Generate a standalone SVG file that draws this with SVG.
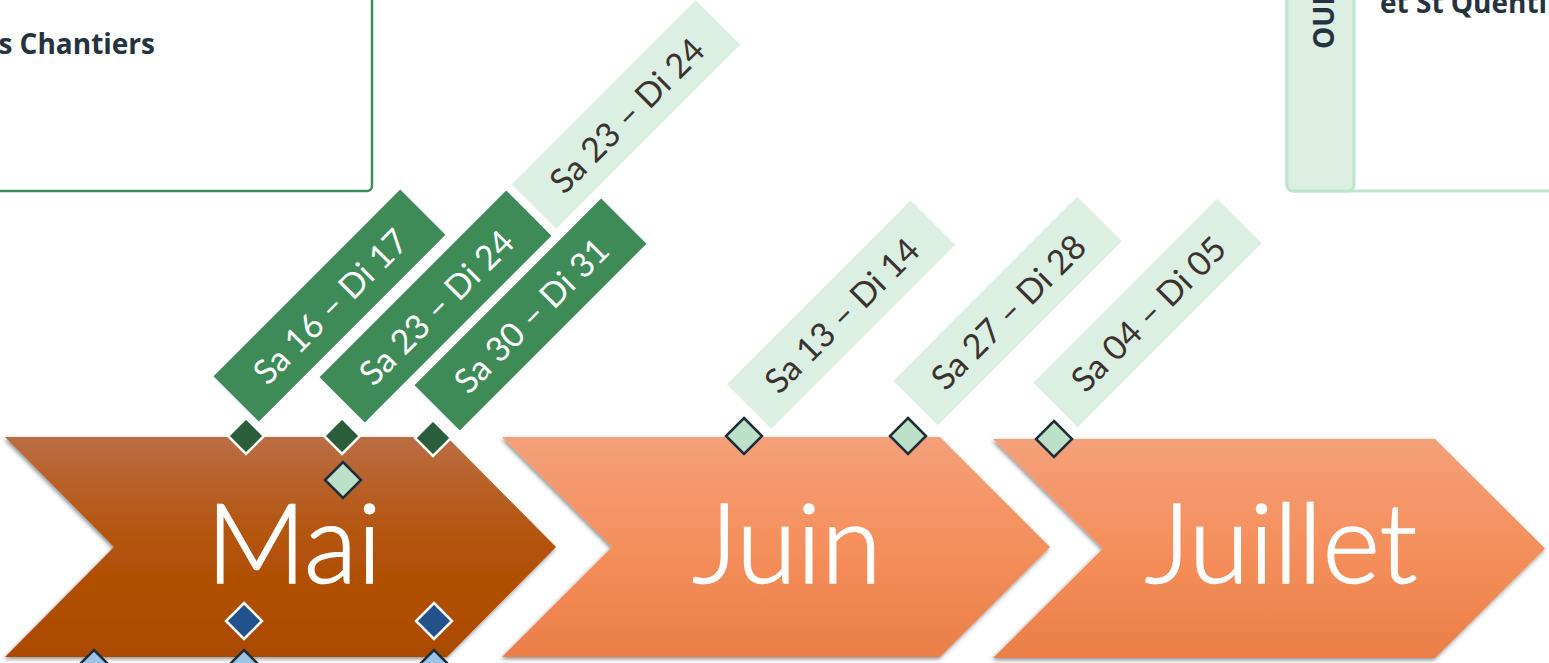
<svg xmlns="http://www.w3.org/2000/svg" width="1549" height="663" viewBox="0 0 1549 663">
<style>
.month{font-family:Lato,"Open Sans",sans-serif;font-weight:300;font-size:110px;fill:#fff;stroke:#fff;stroke-width:1.6;text-anchor:middle}
.lbl{font-family:Lato,"Open Sans",sans-serif;font-size:34px;text-anchor:middle;dominant-baseline:central}
.dk rect{fill:#3E8B58}
.dk text{fill:#fff}
.lt rect{fill:#DCEFE3}
.lt text{fill:#3B3330}
.dg{fill:#2A5E3A;stroke:#fff;stroke-width:2.5}
.lg{fill:#BCE0C8;stroke:#1F2D3A;stroke-width:2.5}
.bl{fill:#23528A;stroke:#fff;stroke-width:2.5}
.lb{fill:#9DC3E6;stroke:#1F2D3A;stroke-width:2.5}
.hd{font-family:"Open Sans","Noto Sans",sans-serif;font-weight:bold;font-size:28px;fill:#253240}
</style>
<defs>
<linearGradient id="gMai" x1="0" y1="0" x2="0" y2="1">
<stop offset="0" stop-color="#BB6D43"/>
<stop offset="0.5" stop-color="#B35208"/>
<stop offset="1" stop-color="#AC4A00"/>
</linearGradient>
<linearGradient id="gOr" x1="0" y1="0" x2="0" y2="1">
<stop offset="0" stop-color="#F4A07A"/>
<stop offset="0.5" stop-color="#F58F5C"/>
<stop offset="1" stop-color="#EA7F47"/>
</linearGradient>
<filter id="sh" x="-5%" y="-5%" width="110%" height="115%">
<feDropShadow dx="-1" dy="2" stdDeviation="2" flood-color="#000" flood-opacity="0.45"/>
</filter>
<path id="dm" d="M0,-18 L18,0 L0,18 L-18,0 Z"/>
</defs>

<g id="box-left">
<rect x="-10" y="-10" width="382" height="201" rx="5" fill="#fff" stroke="#3E8B58" stroke-width="2.5"/>
<text class="hd" x="155" y="54" text-anchor="end">s Chantiers</text>
</g>

<g id="box-right">
<rect x="1287" y="-10" width="300" height="201" rx="6" fill="#fff" stroke="#BFE3CB" stroke-width="3"/>
<rect x="1287" y="-10" width="67" height="201" rx="6" fill="#DDEFE3" stroke="#BFE3CB" stroke-width="3"/>
<text class="hd" transform="translate(1334,49) rotate(-90)" font-size="26">OUEST</text>
<text class="hd" x="1380" y="13">et St Quentin</text>
</g>

<g id="chevron-mai">
<path d="M5,437 L447,437 L556,547 L447,657 L5,657 L114,547 Z" fill="url(#gMai)" filter="url(#sh)"/>
<text class="month" x="294" y="583">Mai</text>
</g>
<g id="chevron-juin">
<path d="M502,437 L940,437 L1050,547 L940,657 L502,657 L612,547 Z" fill="url(#gOr)" filter="url(#sh)"/>
<text class="month" x="787" y="583">Juin</text>
</g>
<g id="chevron-juillet">
<path d="M993,439 L1435,439 L1545,548.5 L1435,658 L993,658 L1103,548.5 Z" fill="url(#gOr)" filter="url(#sh)"/>
<text class="month" x="1281" y="583">Juillet</text>
</g>

<g id="label-sa23-top" class="lt" transform="translate(626,114.5) rotate(-45)">
<rect x="-130" y="-31.5" width="260" height="63"/>
<text class="lbl" x="0" y="0">Sa 23 – Di 24</text>
</g>
<g id="label-sa16" class="dk" transform="translate(329.5,305.5) rotate(-45)">
<rect x="-132" y="-32" width="264" height="64"/>
<text class="lbl" x="0" y="0">Sa 16 – Di 17</text>
</g>
<g id="label-sa23" class="dk" transform="translate(435.5,306.5) rotate(-45)">
<rect x="-132" y="-32" width="264" height="64"/>
<text class="lbl" x="0" y="0">Sa 23 – Di 24</text>
</g>
<g id="label-sa30" class="dk" transform="translate(530.5,314.5) rotate(-45)">
<rect x="-132" y="-32" width="264" height="64"/>
<text class="lbl" x="0" y="0">Sa 30 – Di 31</text>
</g>
<g id="label-sa13" class="lt" transform="translate(841,314.5) rotate(-45)">
<rect x="-130" y="-31.5" width="260" height="63"/>
<text class="lbl" x="0" y="0">Sa 13 – Di 14</text>
</g>
<g id="label-sa27" class="lt" transform="translate(1007.5,311) rotate(-45)">
<rect x="-130" y="-31.5" width="260" height="63"/>
<text class="lbl" x="0" y="0">Sa 27 – Di 28</text>
</g>
<g id="label-sa04" class="lt" transform="translate(1147.5,313) rotate(-45)">
<rect x="-130" y="-31.5" width="260" height="63"/>
<text class="lbl" x="0" y="0">Sa 04 – Di 05</text>
</g>

<g id="markers">
<use href="#dm" class="dg" x="246" y="436"/>
<use href="#dm" class="dg" x="342" y="436"/>
<use href="#dm" class="dg" x="433" y="438"/>
<use href="#dm" class="lg" x="343" y="480"/>
<use href="#dm" class="bl" x="244" y="621"/>
<use href="#dm" class="bl" x="434" y="621"/>
<use href="#dm" class="lb" x="94" y="668"/>
<use href="#dm" class="lb" x="244" y="668"/>
<use href="#dm" class="lb" x="434" y="668"/>
<use href="#dm" class="lg" x="744" y="436"/>
<use href="#dm" class="lg" x="908" y="436"/>
<use href="#dm" class="lg" x="1054" y="439"/>
</g>
</svg>
